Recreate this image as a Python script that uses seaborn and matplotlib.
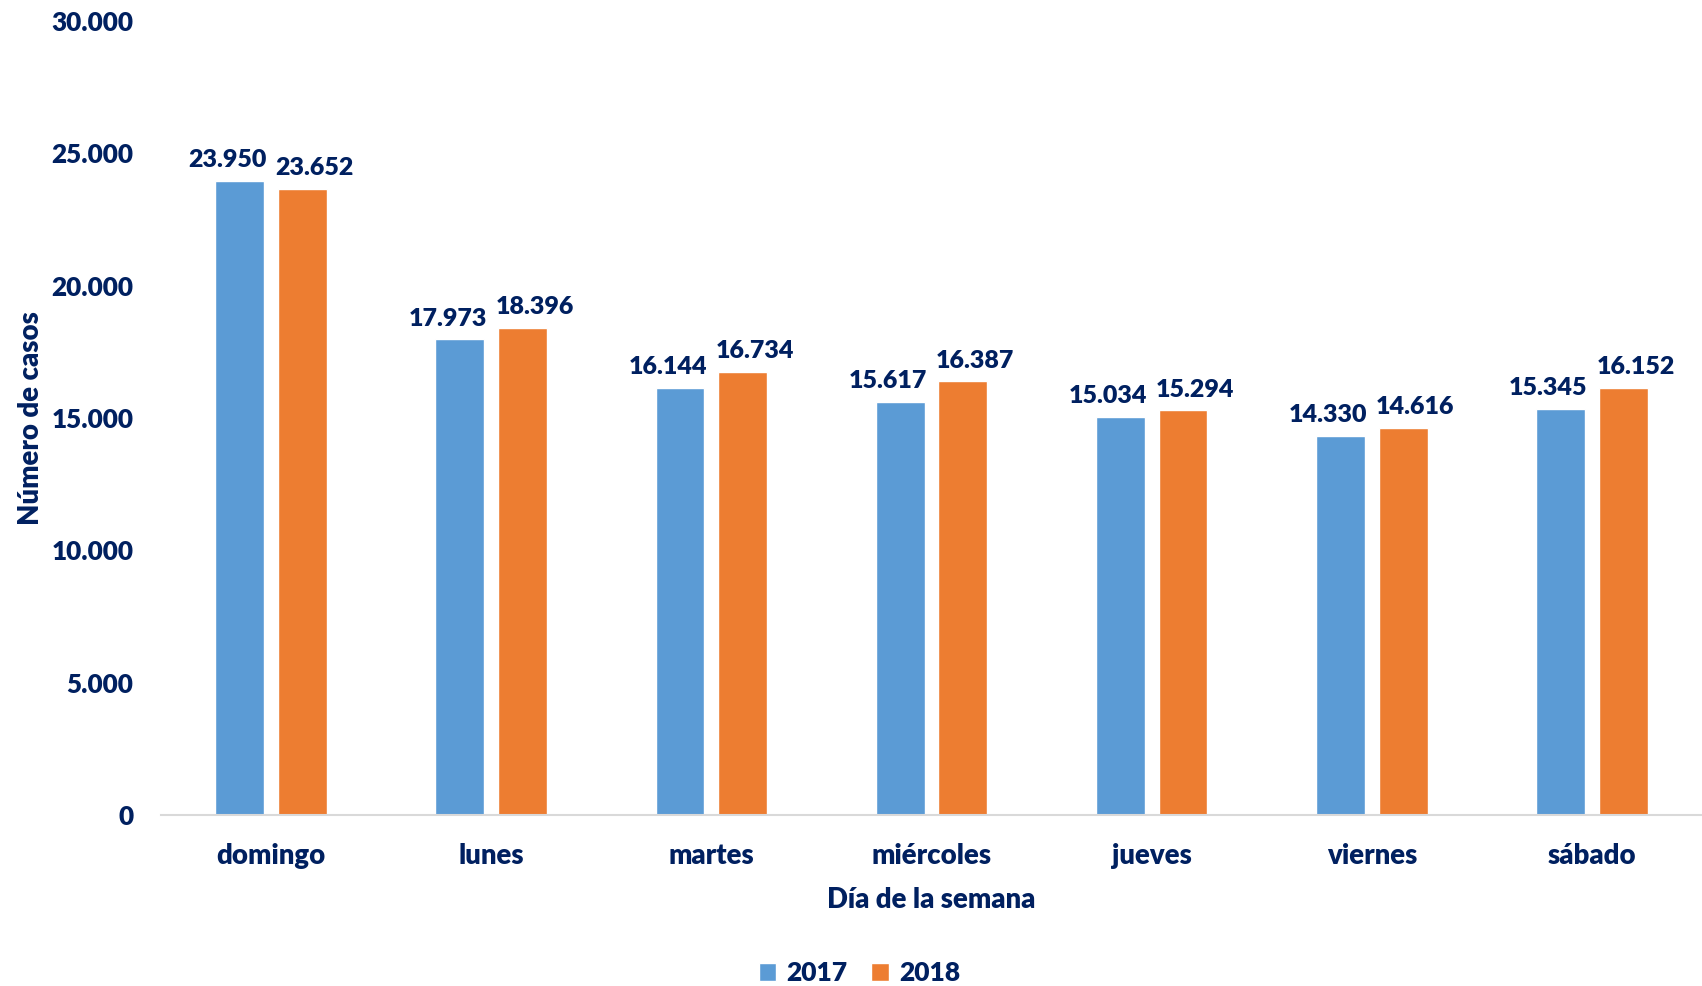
import seaborn as sns
import matplotlib.pyplot as plt
import pandas as pd
from matplotlib.patches import Patch
from matplotlib.ticker import FuncFormatter

dias = ['domingo', 'lunes', 'martes', 'miércoles', 'jueves', 'viernes', 'sábado']
casos_2017 = [23950, 17973, 16144, 15617, 15034, 14330, 15345]
casos_2018 = [23652, 18396, 16734, 16387, 15294, 14616, 16152]
anios = ['2017', '2018']
colores = ['#5B9BD5', '#ED7D31']
navy = '#002060'

df = pd.DataFrame({
    'dia': dias * 2,
    'anio': [anios[0]] * len(dias) + [anios[1]] * len(dias),
    'casos': casos_2017 + casos_2018,
})

sns.set_style('white')
plt.rcParams['font.family'] = ['Lato', 'DejaVu Sans']
peso = 'heavy'
plt.rcParams['font.weight'] = peso

fig, ax = plt.subplots(figsize=(17.02, 9.86), dpi=100)
fig.subplots_adjust(left=0.0946, right=1.0, top=0.9787, bottom=0.1734)

sns.barplot(data=df, x='dia', y='casos', hue='anio', palette=colores,
            width=0.57, gap=0.22, saturation=1, legend=False, ax=ax)

fmt = lambda v, p=None: f'{int(round(v)):,}'.replace(',', '.')

labels = []
for cont in ax.containers:
    labels.append(ax.bar_label(cont, labels=[fmt(v) for v in cont.datavalues],
                               padding=7, fontsize=18, color=navy, fontweight=peso))

ax.set_ylim(0, 30000)
ax.set_xlim(-0.5, len(dias) - 0.5)
ax.set_yticks(range(0, 30001, 5000))
ax.yaxis.set_major_formatter(FuncFormatter(fmt))
ax.tick_params(axis='y', length=0, pad=20, labelsize=18.8, labelcolor=navy)
ax.tick_params(axis='x', length=0, pad=20, labelsize=19.8, labelcolor=navy)

ax.set_xlabel('Día de la semana', fontsize=19.8, color=navy, fontweight=peso, labelpad=13)
ax.set_ylabel('Número de casos', fontsize=19.8, color=navy, fontweight=peso, labelpad=5)

for s in ['top', 'right', 'left']:
    ax.spines[s].set_visible(False)
ax.spines['bottom'].set_color('#D9D9D9')
ax.spines['bottom'].set_linewidth(1.5)

# nudge overlapping value labels apart, like Excel does
fig.canvas.draw()
r = fig.canvas.get_renderer()
for t1, t2 in zip(labels[0], labels[1]):
    b1 = t1.get_window_extent(r)
    b2 = t2.get_window_extent(r)
    ov = b1.x1 - b2.x0
    if ov > 0 and b1.y0 < b2.y1 and b2.y0 < b1.y1:
        x1, y1 = t1.get_position()
        x2, y2 = t2.get_position()
        t1.set_position((x1 - ov / 2 - 1, y1))
        t2.set_position((x2 + ov / 2 + 1, y2))

handles = [Patch(facecolor=c, label=a) for c, a in zip(colores, anios)]
fig.legend(handles=handles, loc='center', bbox_to_anchor=(0.505, 0.013), ncol=2,
           frameon=False, handlelength=0.65, handleheight=0.65,
           handletextpad=0.4, columnspacing=0.9, labelcolor=navy,
           prop={'weight': peso, 'size': 19})

fig.savefig('out.png', dpi=100)
